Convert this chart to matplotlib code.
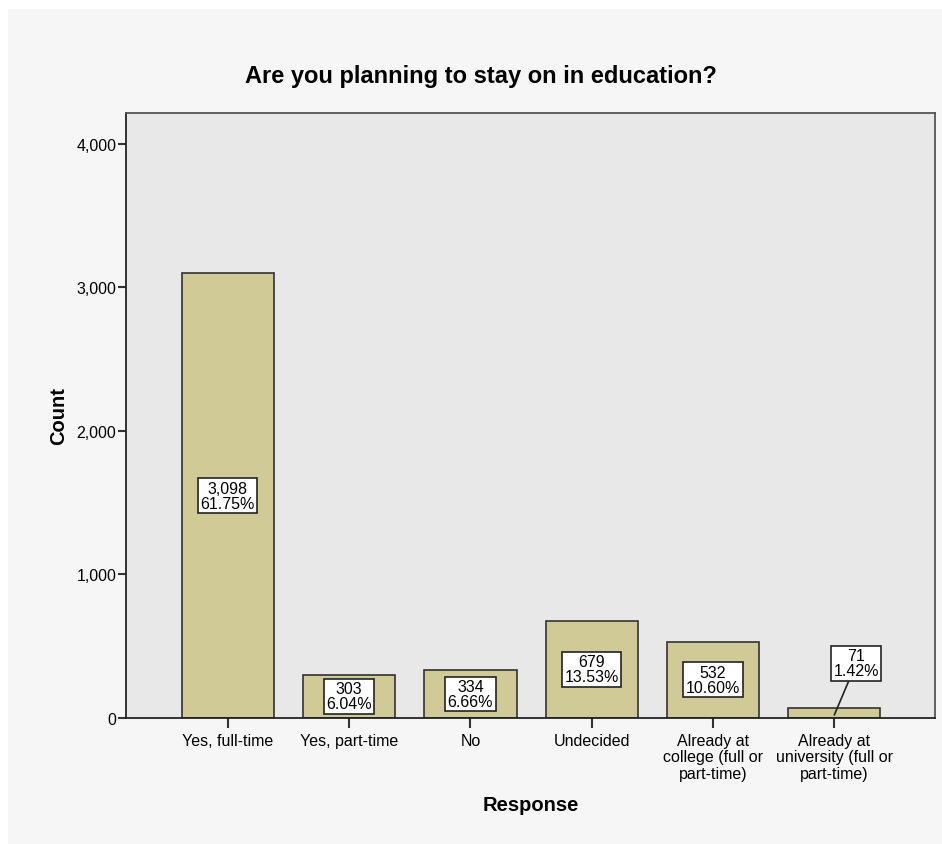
import matplotlib

matplotlib.use("Agg")
import matplotlib.pyplot as plt
from matplotlib.patches import Rectangle
from matplotlib.ticker import FuncFormatter

plt.rcParams["font.family"] = ["Liberation Sans", "DejaVu Sans"]

# data
categories = [
    "Yes, full-time",
    "Yes, part-time",
    "No",
    "Undecided",
    "Already at\ncollege (full or\npart-time)",
    "Already at\nuniversity (full or\npart-time)",
]
counts = [3098, 303, 334, 679, 532, 71]
percents = [61.75, 6.04, 6.66, 13.53, 10.60, 1.42]

BAR_COLOR = "#d0ca97"
PLOT_BG = "#e8e8e8"
OUTER_BG = "#f6f6f6"

fig = plt.figure(figsize=(9.42, 8.45), dpi=100)
fig.patch.set_facecolor("white")
fig.patches.append(
    Rectangle((8 / 942, 0.0), 934 / 942, 835 / 845, transform=fig.transFigure,
              facecolor=OUTER_BG, edgecolor="none", zorder=-10)
)

ax = fig.add_axes([126 / 942, 1 - 719 / 845, 809 / 942, 605 / 845])
ax.set_facecolor(PLOT_BG)

x = list(range(len(categories)))
ax.bar(x, counts, width=0.76, color=BAR_COLOR, edgecolor="#333333", linewidth=1.2, zorder=2)

ax.set_xlim(-0.84, 5.83)
ax.set_ylim(0, 4216)
ax.set_yticks([0, 1000, 2000, 3000, 4000])
ax.yaxis.set_major_formatter(FuncFormatter(lambda v, _: f"{int(v):,}"))
ax.set_xticks(x)
ax.set_xticklabels(categories, fontsize=11.5, linespacing=1.1)
ax.tick_params(axis="y", labelsize=11.5, length=6, width=1.5, color="#333333", pad=1)
ax.tick_params(axis="x", length=7, width=1.5, color="#333333", pad=4)

for side in ["left", "bottom"]:
    ax.spines[side].set_color("#222222")
    ax.spines[side].set_linewidth(1.3)
for side in ["top", "right"]:
    ax.spines[side].set_color("#555555")
    ax.spines[side].set_linewidth(1.3)

box = dict(boxstyle="square,pad=0.15", facecolor="white", edgecolor="#222222", linewidth=1.2)
for xi, c, p in zip(x, counts, percents):
    label = f"{c:,}\n{p:.2f}%"
    if c < 150:
        ax.annotate(label, xy=(xi, c * 0.3), xytext=(xi + 0.18, 380),
                    ha="center", va="center", fontsize=11.5, linespacing=1.0,
                    bbox=box, zorder=4,
                    arrowprops=dict(arrowstyle="-", color="#222222", lw=1.2,
                                    shrinkA=0, shrinkB=0))
    else:
        ax.text(xi, c / 2, label, ha="center", va="center", fontsize=11.5,
                linespacing=1.0, bbox=box, zorder=4)

fig.text(481 / 942, 1 - 77 / 845, "Are you planning to stay on in education?",
         fontsize=17, fontweight="bold", ha="center", va="center")
ax.set_ylabel("Count", fontsize=14.5, fontweight="bold", labelpad=6)
ax.set_xlabel("Response", fontsize=14.5, fontweight="bold", labelpad=10)

fig.savefig("out.png", dpi=100, facecolor=fig.get_facecolor())
